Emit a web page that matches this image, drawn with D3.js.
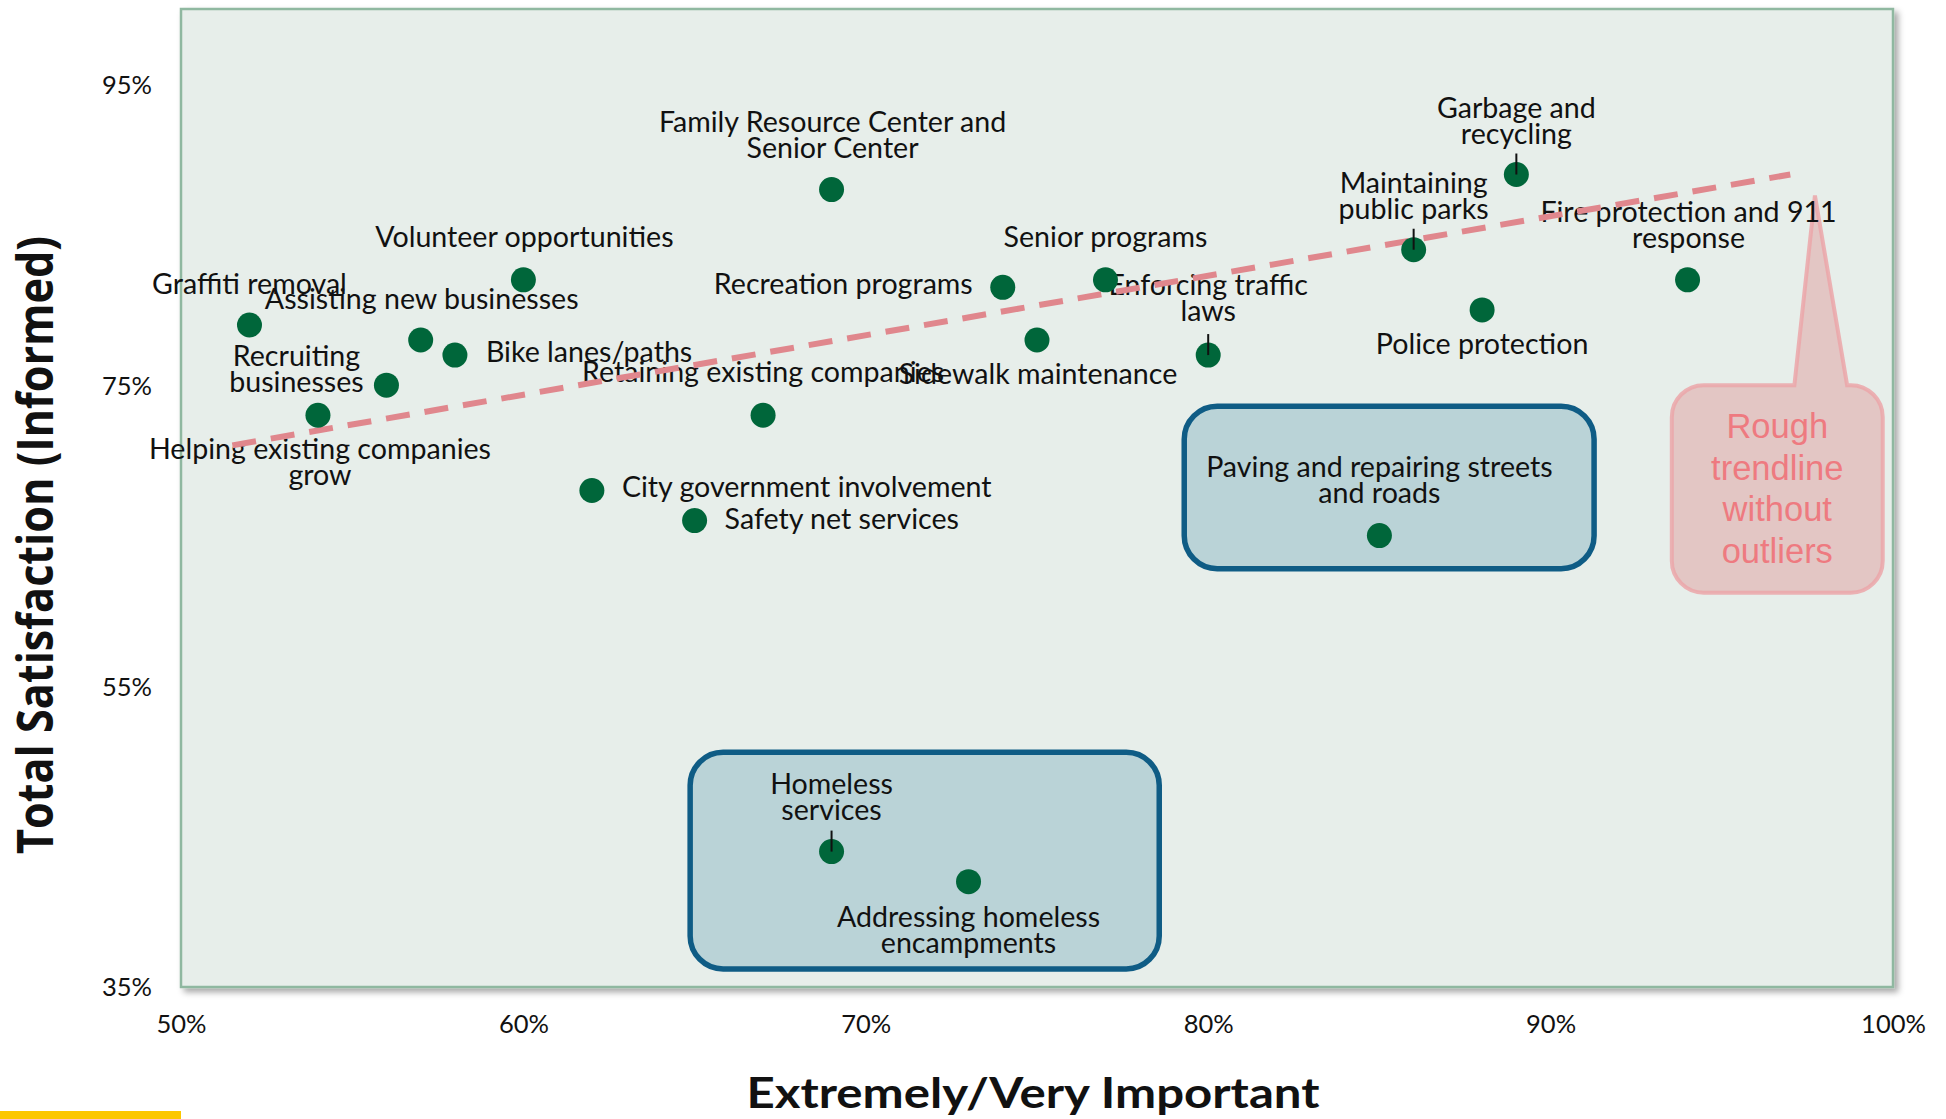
<!DOCTYPE html>
<html>
<head>
<meta charset="utf-8">
<script src="https://cdn.jsdelivr.net/npm/d3@7/dist/d3.min.js"></script>
<style>
  html, body { margin: 0; padding: 0; background: #ffffff; }
  svg { display: block; }
</style>
</head>
<body>
<svg id="chart" width="1946" height="1119"></svg>
<script>
// ---------------- DATA ----------------
const services = [
  "Graffiti removal", "Helping existing companies grow", "Recruiting businesses",
  "Assisting new businesses", "Bike lanes/paths", "Volunteer opportunities",
  "City government involvement", "Safety net services", "Retaining existing companies",
  "Family Resource Center and Senior Center", "Homeless services",
  "Addressing homeless encampments", "Recreation programs", "Sidewalk maintenance",
  "Senior programs", "Enforcing traffic laws", "Paving and repairing streets and roads",
  "Maintaining public parks", "Police protection", "Garbage and recycling",
  "Fire protection and 911 response"
];
const labelLines = [
  ["Graffiti removal"], ["Helping existing companies", "grow"], ["Recruiting", "businesses"],
  ["Assisting new businesses"], ["Bike lanes/paths"], ["Volunteer opportunities"],
  ["City government involvement"], ["Safety net services"], ["Retaining existing companies"],
  ["Family Resource Center and", "Senior Center"], ["Homeless", "services"],
  ["Addressing homeless", "encampments"], ["Recreation programs"], ["Sidewalk maintenance"],
  ["Senior programs"], ["Enforcing traffic", "laws"], ["Paving and repairing streets", "and roads"],
  ["Maintaining", "public parks"], ["Police protection"], ["Garbage and", "recycling"],
  ["Fire protection and 911", "response"]
];
// Extremely/Very Important (%)
const importance   = [52, 54, 56, 57, 58, 60, 62, 65, 67, 69, 69, 73, 74, 75, 77, 80, 85, 86, 88, 89, 94];
// Total Satisfaction (Informed) (%)
const satisfaction = [79, 73, 75, 78, 77, 82, 68, 66, 73, 88, 44, 42, 81.5, 78, 82, 77, 65, 84, 80, 89, 82];

const xTicks = [50, 60, 70, 80, 90, 100];
const yTicks = [35, 55, 75, 95];
const xTitle = "Extremely/Very Important";
const yTitle = "Total Satisfaction (Informed)";

// Rough trendline (without outliers): endpoints in data units
const trendX = [51.5, 97];
const trendY = [71, 89];

const calloutLines = ["Rough", "trendline", "without", "outliers"];

// ---------------- LAYOUT (positions / styles) ----------------
// label placement relative to the point: [dx, dy of first baseline, anchor, leader line]
const labelLayout = [
  [0, -31, "middle", false], [2, 44, "middle", false], [-90, -19, "middle", false],
  [1, -31, "middle", false], [31, 7, "start", false], [1, -33, "middle", false],
  [30, 7, "start", false], [30, 8, "start", false], [0, -33, "middle", false],
  [1, -58, "middle", false], [0, -58, "middle", true],
  [0, 45, "middle", false], [-30, 7, "end", false], [1, 44, "middle", false],
  [0, -33, "middle", false], [0, -60, "middle", true], [0, -59, "middle", false],
  [0, -57, "middle", true], [0, 44, "middle", false], [0, -57, "middle", true],
  [1, -58, "middle", false]
];
// highlight boxes in data units [x0, x1, yTop, yBottom]
const highlightBoxes = [
  [79.3, 91.27, 73.6, 62.8],
  [64.87, 78.57, 50.6, 36.2]
];
// callout geometry in data units
const callout = { x0: 93.54, x1: 99.7, yTop: 75.0, yBot: 61.2, baseL: 97.12, baseR: 98.66, tipX: 97.72, tipY: 87.6 };

const W = 1946, H = 1119;
const plot = { left: 181, right: 1893, top: 9, bottom: 987 };
const labelFont = "Lato, 'Open Sans', sans-serif";

const svg = d3.select("#chart");
const x = d3.scaleLinear().domain([50, 100]).range([plot.left, plot.right]);
const y = d3.scaleLinear().domain([35, 100]).range([plot.bottom, plot.top]);

// background
svg.append("rect").attr("width", W).attr("height", H).attr("fill", "#ffffff");

// shadow filter
const defs = svg.append("defs");
const f = defs.append("filter").attr("id", "shadow").attr("x", "-5%").attr("y", "-5%").attr("width", "110%").attr("height", "110%");
f.append("feDropShadow").attr("dx", 4).attr("dy", 4).attr("stdDeviation", 3)
  .attr("flood-color", "#000").attr("flood-opacity", 0.35);

// plot area
svg.append("rect")
  .attr("x", plot.left).attr("y", plot.top)
  .attr("width", plot.right - plot.left).attr("height", plot.bottom - plot.top)
  .attr("fill", "#e7eeea").attr("stroke", "#8fb8a0").attr("stroke-width", 2.5)
  .attr("filter", "url(#shadow)");

// highlight boxes
svg.append("g").selectAll("rect").data(highlightBoxes).join("rect")
  .attr("x", d => x(d[0])).attr("y", d => y(d[2]))
  .attr("width", d => x(d[1]) - x(d[0])).attr("height", d => y(d[3]) - y(d[2]))
  .attr("rx", 33).attr("ry", 33)
  .attr("fill", "#bad3d7").attr("stroke", "#0f5c85").attr("stroke-width", 5.5);

// callout
(function () {
  const x0 = x(callout.x0), x1 = x(callout.x1), y0 = y(callout.yTop), y1 = y(callout.yBot);
  const r = 32;
  const p = d3.path();
  p.moveTo(x0 + r, y0);
  p.lineTo(x(callout.baseL), y0);
  p.lineTo(x(callout.tipX), y(callout.tipY));
  p.lineTo(x(callout.baseR), y0);
  p.lineTo(x1 - r, y0);
  p.arcTo(x1, y0, x1, y0 + r, r);
  p.lineTo(x1, y1 - r);
  p.arcTo(x1, y1, x1 - r, y1, r);
  p.lineTo(x0 + r, y1);
  p.arcTo(x0, y1, x0, y1 - r, r);
  p.lineTo(x0, y0 + r);
  p.arcTo(x0, y0, x0 + r, y0, r);
  p.closePath();
  svg.append("path").attr("d", p.toString())
    .attr("fill", "#e3c3c2").attr("fill-opacity", 0.95)
    .attr("stroke", "#eba6a9").attr("stroke-opacity", 0.85).attr("stroke-width", 4);
  const cx = (x0 + x1) / 2;
  svg.append("text")
    .attr("font-family", "'Liberation Sans', Arial, sans-serif")
    .attr("font-size", 34.5).attr("fill", "#ee7a80").attr("text-anchor", "middle")
    .selectAll("tspan").data(calloutLines).join("tspan")
    .attr("x", cx).attr("y", (d, i) => y0 + 53 + i * 41.5)
    .text(d => d);
})();

// labels
const pts = services.map((s, i) => ({ name: s, xv: importance[i], yv: satisfaction[i], lines: labelLines[i], lay: labelLayout[i] }));

const lg = svg.append("g").attr("font-family", labelFont).attr("font-size", 28.6).attr("fill", "#111");
lg.selectAll("text").data(pts).join("text")
  .attr("text-anchor", d => d.lay[2])
  .each(function (d) {
    d3.select(this).selectAll("tspan").data(d.lines).join("tspan")
      .attr("x", x(d.xv) + d.lay[0])
      .attr("y", (t, i) => y(d.yv) + d.lay[1] + i * 26)
      .text(t => t);
  });

// trendline
svg.append("line")
  .attr("x1", x(trendX[0])).attr("y1", y(trendY[0]))
  .attr("x2", x(trendX[1])).attr("y2", y(trendY[1]))
  .attr("stroke", "#e0878d").attr("stroke-width", 6)
  .attr("stroke-dasharray", "24 15");

// points
svg.append("g").selectAll("circle").data(pts).join("circle")
  .attr("cx", d => x(d.xv)).attr("cy", d => y(d.yv)).attr("r", 12.5)
  .attr("fill", "#00663a");

// leader lines
svg.append("g").selectAll("line").data(pts.filter(d => d.lay[3])).join("line")
  .attr("x1", d => x(d.xv)).attr("x2", d => x(d.xv))
  .attr("y1", d => y(d.yv) - 21).attr("y2", d => y(d.yv))
  .attr("stroke", "#111").attr("stroke-width", 2);

// axes (labels only, no axis lines)
const xAxis = d3.axisBottom(x).tickValues(xTicks).tickSize(0).tickFormat(d => d + "%");
const gx = svg.append("g").attr("transform", `translate(0, ${plot.bottom + 25})`).call(xAxis);
gx.select(".domain").remove();
gx.selectAll("text").attr("font-family", labelFont).attr("font-size", 25.5).attr("fill", "#111").attr("dy", "0.71em");

const yAxis = d3.axisLeft(y).tickValues(yTicks).tickSize(0).tickFormat(d => d + "%");
const gy = svg.append("g").attr("transform", `translate(152, 0)`).call(yAxis);
gy.select(".domain").remove();
gy.selectAll("text").attr("font-family", labelFont).attr("font-size", 25.5).attr("fill", "#111").attr("x", 0).attr("dy", "0.35em");

// axis titles
svg.append("text")
  .attr("x", 1033).attr("y", 1108)
  .attr("text-anchor", "middle")
  .attr("font-family", labelFont).attr("font-weight", 700).attr("font-size", 42)
  .attr("fill", "#111")
  .attr("textLength", 573).attr("lengthAdjust", "spacingAndGlyphs")
  .text(xTitle);

svg.append("text")
  .attr("transform", "translate(53, 545) rotate(-90)")
  .attr("text-anchor", "middle")
  .attr("font-family", "'Open Sans', sans-serif").attr("font-weight", 700).attr("font-size", 50)
  .attr("fill", "#111")
  .attr("textLength", 618).attr("lengthAdjust", "spacingAndGlyphs")
  .text(yTitle);

// yellow accent bar
svg.append("rect").attr("x", 0).attr("y", 1111).attr("width", 181).attr("height", 8).attr("fill", "#fcc700");
</script>
</body>
</html>
